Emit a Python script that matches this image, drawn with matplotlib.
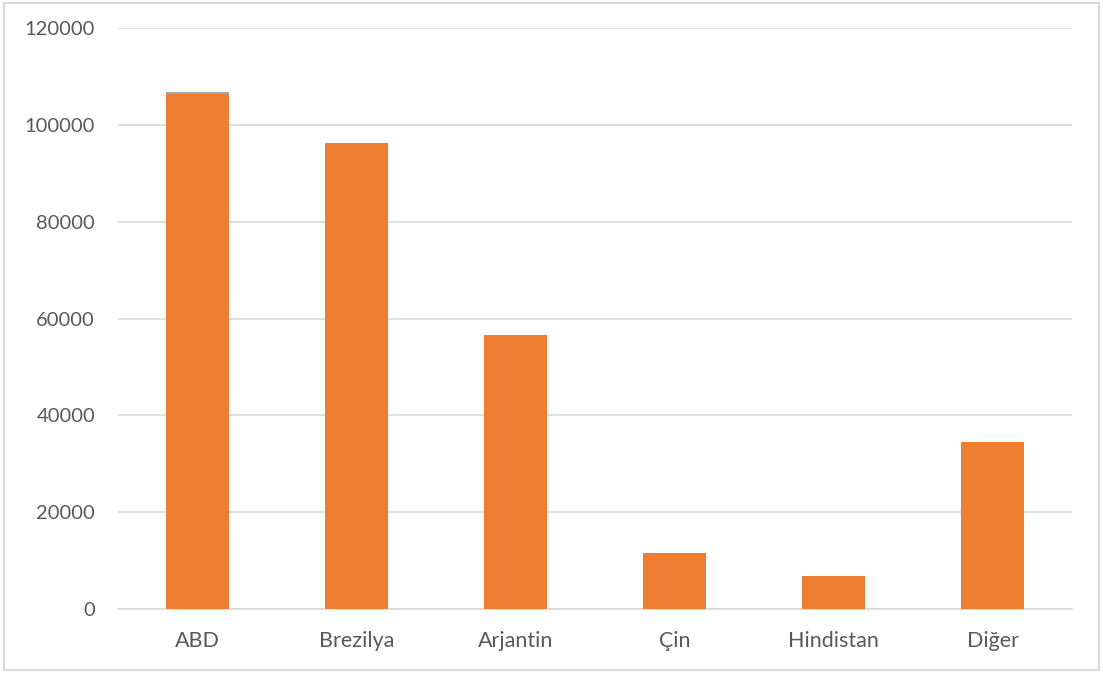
import matplotlib
matplotlib.use('Agg')
import matplotlib.pyplot as plt
from matplotlib.patches import Rectangle

countries = ['ABD', 'Brezilya', 'Arjantin', 'Çin', 'Hindistan', 'Diğer']
values = [106500, 96300, 56700, 11600, 6900, 34600]
# thin grey series visible on top of the ABD bar
extra = [300, 0, 0, 0, 0, 0]
yticks = [0, 20000, 40000, 60000, 80000, 100000, 120000]

orange = '#ED7D31'
grey = '#A5A5A5'
text_col = '#595959'
grid_col = '#D9D9D9'

plt.rcParams['font.family'] = ['Lato', 'DejaVu Sans']

fig = plt.figure(figsize=(11.03, 6.73), dpi=100)
ax = fig.add_axes([0.107, 0.095, 0.865, 0.863])

x = range(len(countries))
ax.bar(x, values, width=0.4, color=orange, zorder=3)
ax.bar(x, extra, width=0.4, bottom=values, color=grey, zorder=3)

ax.set_xlim(-0.5, len(countries) - 0.5)
ax.set_ylim(0, 120000)
ax.set_yticks(yticks)
ax.set_yticklabels([str(t) for t in yticks])
ax.set_xticks(list(x))
ax.set_xticklabels(countries)
ax.tick_params(axis='both', length=0, colors=text_col)
ax.tick_params(axis='y', pad=16.5, labelsize=14.5)
ax.tick_params(axis='x', pad=16, labelsize=15.5)
ax.yaxis.grid(True, color=grid_col, linewidth=1.2, zorder=0)
for s in ['top', 'right', 'left']:
    ax.spines[s].set_visible(False)
ax.spines['bottom'].set_color(grid_col)
ax.spines['bottom'].set_linewidth(1.2)

# chart border
fig.patches.append(Rectangle((0.004, 0.004), 0.992, 0.992, transform=fig.transFigure,
                             fill=False, edgecolor=grid_col, linewidth=1.5))

fig.savefig('out.png', dpi=100)
